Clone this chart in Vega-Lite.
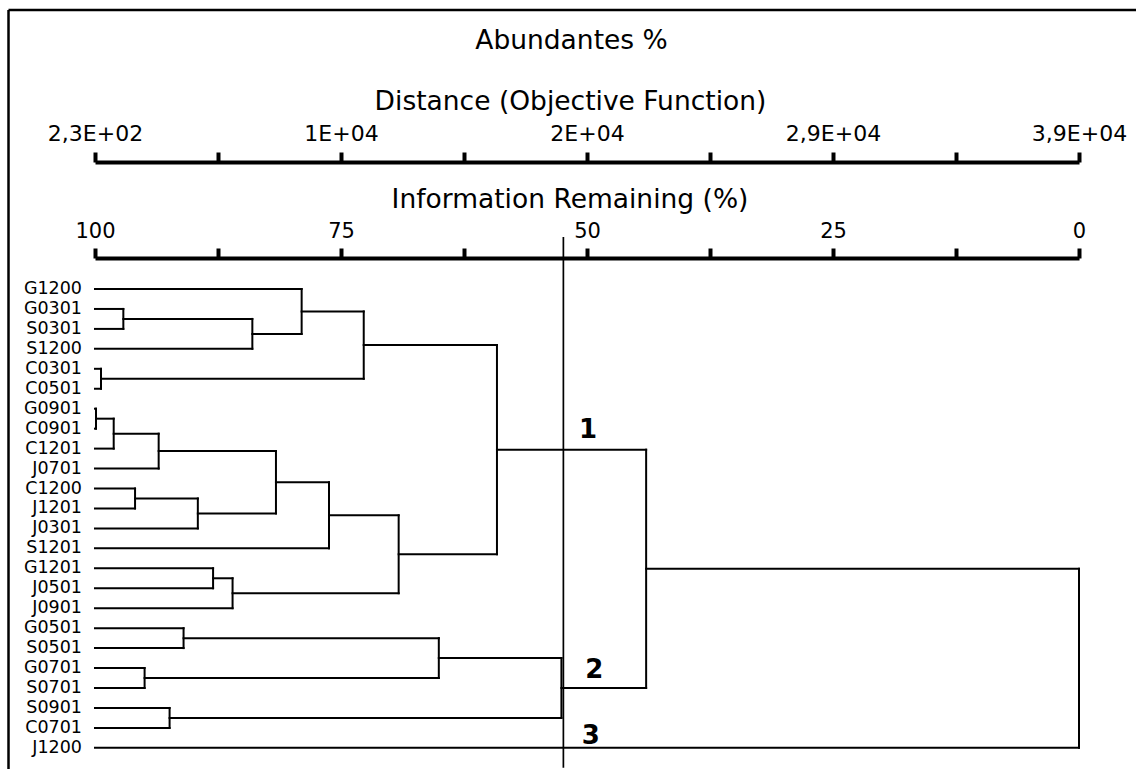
{
  "$schema": "https://vega.github.io/schema/vega-lite/v6.json",
  "width": 984,
  "height": 511,
  "autosize": {"type": "none"},
  "padding": {"left": 95, "top": 258, "right": 57, "bottom": 0},
  "background": "white",
  "config": {"view": {"stroke": null}, "font": "DejaVu Sans"},
  "title": {"text": "Abundantes %", "font": "DejaVu Sans", "fontSize": 26.5, "fontWeight": "normal", "color": "black", "anchor": "middle", "dx": -15.5, "offset": 0, "dy": 73, "baseline": "bottom"},
  "datasets": {
    "segments": [
      {"x": 100, "x2": 79.0, "y": 0, "y2": 0},
      {"x": 100, "x2": 97.12, "y": 1, "y2": 1},
      {"x": 100, "x2": 97.12, "y": 2, "y2": 2},
      {"x": 100, "x2": 84.01, "y": 3, "y2": 3},
      {"x": 100, "x2": 99.39, "y": 4, "y2": 4},
      {"x": 100, "x2": 99.39, "y": 5, "y2": 5},
      {"x": 100, "x2": 99.9, "y": 6, "y2": 6},
      {"x": 100, "x2": 99.9, "y": 7, "y2": 7},
      {"x": 100, "x2": 98.1, "y": 8, "y2": 8},
      {"x": 100, "x2": 93.53, "y": 9, "y2": 9},
      {"x": 100, "x2": 95.93, "y": 10, "y2": 10},
      {"x": 100, "x2": 95.93, "y": 11, "y2": 11},
      {"x": 100, "x2": 89.55, "y": 12, "y2": 12},
      {"x": 100, "x2": 76.22, "y": 13, "y2": 13},
      {"x": 100, "x2": 88.0, "y": 14, "y2": 14},
      {"x": 100, "x2": 88.0, "y": 15, "y2": 15},
      {"x": 100, "x2": 86.02, "y": 16, "y2": 16},
      {"x": 100, "x2": 91.0, "y": 17, "y2": 17},
      {"x": 100, "x2": 91.0, "y": 18, "y2": 18},
      {"x": 100, "x2": 94.96, "y": 19, "y2": 19},
      {"x": 100, "x2": 94.96, "y": 20, "y2": 20},
      {"x": 100, "x2": 92.42, "y": 21, "y2": 21},
      {"x": 100, "x2": 92.42, "y": 22, "y2": 22},
      {"x": 100, "x2": 0, "y": 23, "y2": 23},
      {"x": 97.12, "x2": 84.01, "y": 1.5, "y2": 1.5},
      {"x": 84.01, "x2": 79.0, "y": 2.25, "y2": 2.25},
      {"x": 79.0, "x2": 72.69, "y": 1.125, "y2": 1.125},
      {"x": 99.39, "x2": 72.69, "y": 4.5, "y2": 4.5},
      {"x": 72.69, "x2": 59.15, "y": 2.8125, "y2": 2.8125},
      {"x": 99.9, "x2": 98.1, "y": 6.5, "y2": 6.5},
      {"x": 98.1, "x2": 93.53, "y": 7.25, "y2": 7.25},
      {"x": 93.53, "x2": 81.61, "y": 8.125, "y2": 8.125},
      {"x": 95.93, "x2": 89.55, "y": 10.5, "y2": 10.5},
      {"x": 89.55, "x2": 81.61, "y": 11.25, "y2": 11.25},
      {"x": 81.61, "x2": 76.22, "y": 9.6875, "y2": 9.6875},
      {"x": 76.22, "x2": 69.14, "y": 11.34375, "y2": 11.34375},
      {"x": 88.0, "x2": 86.02, "y": 14.5, "y2": 14.5},
      {"x": 86.02, "x2": 69.14, "y": 15.25, "y2": 15.25},
      {"x": 69.14, "x2": 59.15, "y": 13.296875, "y2": 13.296875},
      {"x": 59.15, "x2": 43.99, "y": 8.0546875, "y2": 8.0546875},
      {"x": 91.0, "x2": 65.06, "y": 17.5, "y2": 17.5},
      {"x": 94.96, "x2": 65.06, "y": 19.5, "y2": 19.5},
      {"x": 65.06, "x2": 52.6, "y": 18.5, "y2": 18.5},
      {"x": 92.42, "x2": 52.6, "y": 21.5, "y2": 21.5},
      {"x": 52.6, "x2": 43.99, "y": 20, "y2": 20},
      {"x": 43.99, "x2": 0, "y": 14.027, "y2": 14.027},
      {"x": 97.12, "x2": 97.12, "y": 1, "y2": 2},
      {"x": 84.01, "x2": 84.01, "y": 1.5, "y2": 3},
      {"x": 79.0, "x2": 79.0, "y": 0, "y2": 2.25},
      {"x": 99.39, "x2": 99.39, "y": 4, "y2": 5},
      {"x": 72.69, "x2": 72.69, "y": 1.125, "y2": 4.5},
      {"x": 99.9, "x2": 99.9, "y": 6, "y2": 7},
      {"x": 98.1, "x2": 98.1, "y": 6.5, "y2": 8},
      {"x": 93.53, "x2": 93.53, "y": 7.25, "y2": 9},
      {"x": 95.93, "x2": 95.93, "y": 10, "y2": 11},
      {"x": 89.55, "x2": 89.55, "y": 10.5, "y2": 12},
      {"x": 81.61, "x2": 81.61, "y": 8.125, "y2": 11.25},
      {"x": 76.22, "x2": 76.22, "y": 9.6875, "y2": 13},
      {"x": 88.0, "x2": 88.0, "y": 14, "y2": 15},
      {"x": 86.02, "x2": 86.02, "y": 14.5, "y2": 16},
      {"x": 69.14, "x2": 69.14, "y": 11.34375, "y2": 15.25},
      {"x": 59.15, "x2": 59.15, "y": 2.8125, "y2": 13.296875},
      {"x": 91.0, "x2": 91.0, "y": 17, "y2": 18},
      {"x": 94.96, "x2": 94.96, "y": 19, "y2": 20},
      {"x": 65.06, "x2": 65.06, "y": 17.5, "y2": 19.5},
      {"x": 92.42, "x2": 92.42, "y": 21, "y2": 22},
      {"x": 52.6, "x2": 52.6, "y": 18.5, "y2": 21.5},
      {"x": 43.99, "x2": 43.99, "y": 8.0546875, "y2": 20},
      {"x": 0, "x2": 0, "y": 14.027, "y2": 23}
    ],
    "leaves": [
      {"name": "G1200", "row": 0}, {"name": "G0301", "row": 1}, {"name": "S0301", "row": 2},
      {"name": "S1200", "row": 3}, {"name": "C0301", "row": 4}, {"name": "C0501", "row": 5},
      {"name": "G0901", "row": 6}, {"name": "C0901", "row": 7}, {"name": "C1201", "row": 8},
      {"name": "J0701", "row": 9}, {"name": "C1200", "row": 10}, {"name": "J1201", "row": 11},
      {"name": "J0301", "row": 12}, {"name": "S1201", "row": 13}, {"name": "G1201", "row": 14},
      {"name": "J0501", "row": 15}, {"name": "J0901", "row": 16}, {"name": "G0501", "row": 17},
      {"name": "S0501", "row": 18}, {"name": "G0701", "row": 19}, {"name": "S0701", "row": 20},
      {"name": "S0901", "row": 21}, {"name": "C0701", "row": 22}, {"name": "J1200", "row": 23}
    ],
    "cut": [{"x": 52.4, "y": -2.607, "y2": 24.0}],
    "groups": [
      {"label": "1", "x": 49.9, "y": 7.484},
      {"label": "2", "x": 49.26, "y": 19.514},
      {"label": "3", "x": 49.61, "y": 22.822}
    ],
    "frame": [
      {"x": 108.79, "x2": -6.5, "y": -13.985, "y2": -13.985},
      {"x": 108.79, "x2": 108.79, "y": -13.985, "y2": 25}
    ]
  },
  "layer": [
    {
      "data": {"name": "segments"},
      "mark": {"type": "rule", "color": "black", "strokeWidth": 2, "strokeCap": "square"},
      "encoding": {
        "x": {"field": "x", "type": "quantitative",
          "scale": {"domain": [0, 100], "reverse": true, "nice": false, "zero": false},
          "axis": {
            "orient": "top",
            "values": [100, 87.5, 75, 62.5, 50, 37.5, 25, 12.5, 0],
            "labelExpr": "datum.value % 25 === 0 ? datum.label : ''",
            "domainWidth": 4, "domainColor": "black",
            "tickWidth": 4, "tickSize": 10, "tickColor": "black",
            "labelFont": "DejaVu Sans", "labelFontSize": 21, "labelColor": "black",
            "labelPadding": 7, "labelFlush": false, "labelOverlap": false, "labelAngle": 0,
            "grid": false,
            "title": "Information Remaining (%)",
            "titleFont": "DejaVu Sans", "titleFontSize": 26.5, "titleFontWeight": "normal", "titleColor": "black",
            "titleX": 474.5, "titleY": -50.7, "titleAlign": "center", "titleBaseline": "alphabetic"
          }},
        "x2": {"field": "x2"},
        "y": {"field": "y", "type": "quantitative",
          "scale": {"domain": [-1.554, 24.06], "reverse": true, "nice": false, "zero": false},
          "axis": null},
        "y2": {"field": "y2"}
      }
    },
    {
      "data": {"name": "cut"},
      "mark": {"type": "rule", "color": "black", "strokeWidth": 1.7},
      "encoding": {
        "x": {"field": "x", "type": "quantitative",
          "scale": {"domain": [0, 100], "reverse": true, "nice": false, "zero": false},
          "axis": {
            "orient": "top", "offset": 96,
            "values": [100, 87.5, 75, 62.5, 50, 37.5, 25, 12.5, 0],
            "labelExpr": "datum.value === 100 ? '2,3E+02' : datum.value === 75 ? '1E+04' : datum.value === 50 ? '2E+04' : datum.value === 25 ? '2,9E+04' : datum.value === 0 ? '3,9E+04' : ''",
            "domainWidth": 4, "domainColor": "black",
            "tickWidth": 4, "tickSize": 10, "tickColor": "black",
            "labelFont": "DejaVu Sans", "labelFontSize": 22, "labelColor": "black",
            "labelPadding": 7, "labelFlush": false, "labelOverlap": false, "labelAngle": 0,
            "grid": false,
            "title": "Distance (Objective Function)",
            "titleFont": "DejaVu Sans", "titleFontSize": 26.5, "titleFontWeight": "normal", "titleColor": "black",
            "titleX": 475, "titleY": -52.7, "titleAlign": "center", "titleBaseline": "alphabetic"
          }},
        "y": {"field": "y", "type": "quantitative",
          "scale": {"domain": [-1.554, 24.06], "reverse": true, "nice": false, "zero": false},
          "axis": null},
        "y2": {"field": "y2"}
      }
    },
    {
      "data": {"name": "frame"},
      "mark": {"type": "rule", "color": "black", "strokeWidth": 2.5},
      "encoding": {
        "x": {"field": "x", "type": "quantitative", "axis": null},
        "x2": {"field": "x2"},
        "y": {"field": "y", "type": "quantitative", "axis": null},
        "y2": {"field": "y2"}
      }
    },
    {
      "data": {"name": "leaves"},
      "mark": {"type": "text", "align": "right", "baseline": "middle", "dx": -13, "font": "DejaVu Sans", "fontSize": 17.5, "color": "black"},
      "encoding": {
        "x": {"datum": 100, "type": "quantitative", "axis": null},
        "y": {"field": "row", "type": "quantitative", "axis": null},
        "text": {"field": "name"}
      }
    },
    {
      "data": {"name": "groups"},
      "mark": {"type": "text", "align": "center", "baseline": "alphabetic", "font": "DejaVu Sans", "fontSize": 26, "fontWeight": "bold", "color": "black"},
      "encoding": {
        "x": {"field": "x", "type": "quantitative", "axis": null},
        "y": {"field": "y", "type": "quantitative", "axis": null},
        "text": {"field": "label"}
      }
    }
  ],
  "resolve": {"axis": {"x": "independent"}}
}
